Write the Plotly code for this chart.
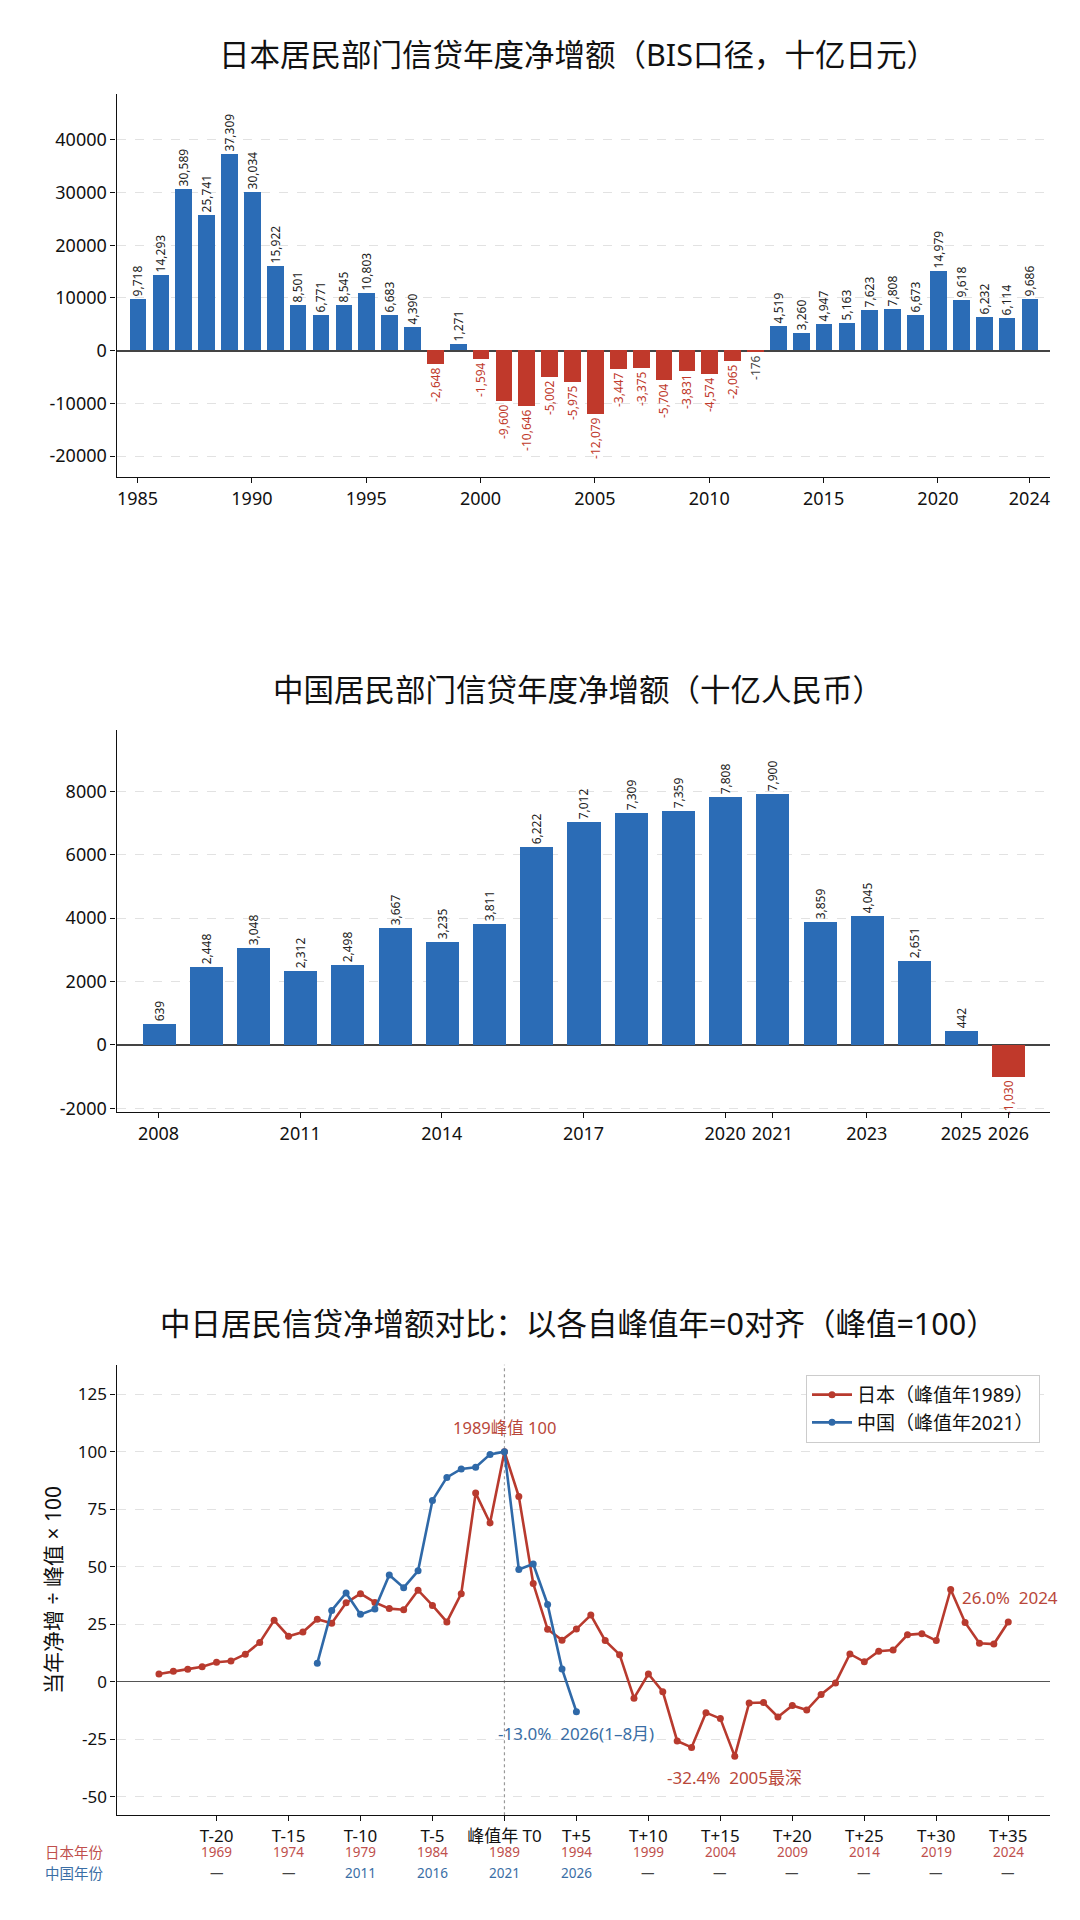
import plotly.graph_objects as go

# ---------------- data ----------------
jp_years = list(range(1985, 2025))
jp_values = [9718, 14293, 30589, 25741, 37309, 30034, 15922, 8501, 6771, 8545,
             10803, 6683, 4390, -2648, 1271, -1594, -9600, -10646, -5002, -5975,
             -12079, -3447, -3375, -5704, -3831, -4574, -2065, -176, 4519, 3260,
             4947, 5163, 7623, 7808, 6673, 14979, 9618, 6232, 6114, 9686]
jp_ticks = [1985, 1990, 1995, 2000, 2005, 2010, 2015, 2020, 2024]

cn_years = list(range(2008, 2027))
cn_values = [639, 2448, 3048, 2312, 2498, 3667, 3235, 3811, 6222, 7012,
             7309, 7359, 7808, 7900, 3859, 4045, 2651, 442, -1030]
cn_ticks = [2008, 2011, 2014, 2017, 2020, 2021, 2023, 2025, 2026]

# aligned index (peak year = 0), peak = 100
jp_t = list(range(-24, 36))
jp_idx = [3.4, 4.6, 5.5, 6.5, 8.5, 9.0, 12.0, 17.1, 26.7, 19.8,
          21.6, 27.2, 25.4, 34.3, 38.3, 34.5, 31.8, 31.3, 39.8, 33.2,
          26.0, 38.3, 82.0, 69.0, 100.0, 80.5, 42.7, 22.8, 18.1, 22.9,
          29.0, 17.9, 11.8, -7.1, 3.4, -4.3, -25.7, -28.5, -13.4, -16.0,
          -32.4, -9.2, -9.0, -15.3, -10.3, -12.3, -5.5, -0.5, 12.1, 8.7,
          13.3, 13.8, 20.4, 20.9, 17.9, 40.1, 25.8, 16.7, 16.4, 26.0]
cn_t = list(range(-13, 6))
cn_idx = [8.1, 31.0, 38.6, 29.3, 31.6, 46.4, 40.9, 48.2, 78.8, 88.8,
          92.5, 93.2, 98.8, 100.0, 48.8, 51.2, 33.6, 5.6, -13.0]

t_ticks = [-20, -15, -10, -5, 0, 5, 10, 15, 20, 25, 30, 35]
t_labels = ["T-20", "T-15", "T-10", "T-5", "峰值年 T0", "T+5", "T+10", "T+15",
            "T+20", "T+25", "T+30", "T+35"]
jp_year_row = ["1969", "1974", "1979", "1984", "1989", "1994", "1999", "2004",
               "2009", "2014", "2019", "2024"]
cn_year_row = ["—", "—", "2011", "2016", "2021", "2026", "—", "—", "—", "—", "—", "—"]

titles = ["日本居民部门信贷年度净增额（BIS口径，十亿日元）",
          "中国居民部门信贷年度净增额（十亿人民币）",
          "中日居民信贷净增额对比：以各自峰值年=0对齐（峰值=100）"]

# ---------------- style ----------------
FONT = "Noto Sans, Noto Sans CJK SC, sans-serif"
BLUE = "#2b6cb6"
RED = "#c0392b"
JP_LINE = "#b83a2e"
CN_LINE = "#2f69a8"
GRID = "#e2e2e2"

W, H = 1080, 1920
def py(px):
    return 1 - px / H

xdom = [108.5 / W, 1042 / W]

def bar_colors(vals):
    return [BLUE if v >= 0 else RED for v in vals]

def label_colors(vals):
    return ["#222" if v >= 0 else (RED if v < -500 else "#444") for v in vals]

fig = go.Figure()

fig.add_trace(go.Bar(
    x=jp_years, y=jp_values, width=0.73,
    marker=dict(color=bar_colors(jp_values), line=dict(width=0)),
    text=[f"{v:,}" for v in jp_values], textposition="outside", textangle=-90,
    textfont=dict(size=12, color=label_colors(jp_values), family=FONT),
    constraintext="none", cliponaxis=False, showlegend=False,
    xaxis="x", yaxis="y"))

fig.add_trace(go.Bar(
    x=cn_years, y=cn_values, width=0.7,
    marker=dict(color=bar_colors(cn_values), line=dict(width=0)),
    text=[f"{v:,}" for v in cn_values], textposition="outside", textangle=-90,
    textfont=dict(size=12, color=label_colors(cn_values), family=FONT),
    constraintext="none", cliponaxis=False, showlegend=False,
    xaxis="x2", yaxis="y2"))

fig.add_trace(go.Scatter(
    x=jp_t, y=jp_idx, mode="lines+markers", name="日本（峰值年1989）",
    line=dict(color=JP_LINE, width=2.6), marker=dict(size=7, color=JP_LINE),
    xaxis="x3", yaxis="y3", cliponaxis=False))
fig.add_trace(go.Scatter(
    x=cn_t, y=cn_idx, mode="lines+markers", name="中国（峰值年2021）",
    line=dict(color=CN_LINE, width=2.6), marker=dict(size=7, color=CN_LINE),
    xaxis="x3", yaxis="y3", cliponaxis=False))

axis_common = dict(showline=True, linecolor="#111", linewidth=1.2, ticks="outside",
                   ticklen=5, tickcolor="#111", tickwidth=1.1, mirror=False)

def fmt(v):
    return str(v).replace("\u2212", "-")

y1_ticks = [-20000, -10000, 0, 10000, 20000, 30000, 40000]
y2_ticks = [-2000, 0, 2000, 4000, 6000, 8000]
y3_ticks = [-50, -25, 0, 25, 50, 75, 100, 125]

fig.update_layout(
    width=W, height=H, margin=dict(l=0, r=0, t=0, b=0),
    paper_bgcolor="white", plot_bgcolor="white",
    font=dict(family=FONT, color="#111"),
    bargap=0,
    xaxis=dict(domain=xdom, anchor="y", range=[1984.08, 2024.9],
               tickvals=jp_ticks, ticktext=[str(t) for t in jp_ticks],
               tickfont=dict(size=18), showgrid=False, zeroline=False, **axis_common),
    yaxis=dict(domain=[py(471), py(86.7)], anchor="x", range=[-24000, 48600],
               tickvals=y1_ticks, ticktext=[fmt(t) for t in y1_ticks],
               tickfont=dict(size=18), showgrid=True, gridcolor=GRID, griddash="dash",
               gridwidth=1, zeroline=True, zerolinecolor="#444", zerolinewidth=1.8,
               **axis_common),
    xaxis2=dict(domain=xdom, anchor="y2", range=[2007.11, 2026.88],
                tickvals=cn_ticks, ticktext=[str(t) for t in cn_ticks],
                tickfont=dict(size=18), showgrid=False, zeroline=False, **axis_common),
    yaxis2=dict(domain=[py(1108.3), py(725)], anchor="x2", range=[-2126, 9928],
                tickvals=y2_ticks, ticktext=[fmt(t) for t in y2_ticks],
                tickfont=dict(size=18), showgrid=True, gridcolor=GRID, griddash="dash",
                gridwidth=1, zeroline=True, zerolinecolor="#444", zerolinewidth=1.8,
                **axis_common),
    xaxis3=dict(domain=xdom, anchor="y3", range=[-26.95, 37.9],
                tickvals=t_ticks, ticktext=t_labels,
                tickfont=dict(size=17), showgrid=False, zeroline=False, **axis_common),
    yaxis3=dict(domain=[py(1813.9), py(1361.6)], anchor="x3", range=[-58, 137.8],
                tickvals=y3_ticks, ticktext=[fmt(t) for t in y3_ticks],
                tickfont=dict(size=17), showgrid=True, gridcolor=GRID, griddash="dash",
                gridwidth=1, zeroline=True, zerolinecolor="#555", zerolinewidth=1.2,
                title=dict(text="当年净增 ÷ 峰值 × 100", font=dict(size=21), standoff=10),
                **axis_common),
    legend=dict(x=1032 / W, xanchor="right", y=py(1371.8), yanchor="top",
                bgcolor="white", bordercolor="#cccccc", borderwidth=1,
                font=dict(size=19), tracegroupgap=2, itemwidth=40),
)

# vertical dotted line at peak year
fig.add_shape(type="line", xref="x3", yref="y3 domain", x0=0, x1=0, y0=0, y1=1,
              line=dict(color="#999", width=1.2, dash="dot"), layer="below")

ann = []
for txt, ypx in zip(titles, [46, 683, 1320]):
    ann.append(dict(text=txt, xref="paper", yref="paper", x=570 / W, y=py(ypx),
                    xanchor="center", yanchor="middle", showarrow=False,
                    font=dict(size=30.5, color="#111")))

ann += [
    dict(text="1989峰值 100", xref="x3", yref="y3", x=0, y=110.4, showarrow=False,
         font=dict(size=16.5, color="#b9473a"), xanchor="center", yanchor="middle"),
    dict(text="-13.0%\u00a0 2026(1–8月)", xref="x3", yref="y3", x=5, y=-22.4,
         showarrow=False, font=dict(size=17, color="#3a6ea5"),
         xanchor="center", yanchor="middle"),
    dict(text="-32.4%\u00a0 2005最深", xref="x3", yref="y3", x=16, y=-41.5,
         showarrow=False, font=dict(size=17, color="#b9473a"),
         xanchor="center", yanchor="middle"),
    dict(text="26.0%\u00a0 2024", xref="x3", yref="y3", x=35.1, y=36.6,
         showarrow=False, font=dict(size=17, color="#b9473a"),
         xanchor="center", yanchor="middle"),
]

ROW_JP, ROW_CN = 1851, 1872
for t, jy, cy in zip(t_ticks, jp_year_row, cn_year_row):
    ann.append(dict(text=jy, xref="x3", yref="paper", x=t, y=py(ROW_JP),
                    showarrow=False, font=dict(size=13.5, color="#c0504d"),
                    xanchor="center", yanchor="middle"))
    ann.append(dict(text=cy, xref="x3", yref="paper", x=t, y=py(ROW_CN),
                    showarrow=False,
                    font=dict(size=13.5, color=("#444" if cy == "—" else "#3a6ea5")),
                    xanchor="center", yanchor="middle"))

ann.append(dict(text="日本年份", xref="paper", yref="paper", x=66 / W, y=py(ROW_JP),
                showarrow=False, font=dict(size=14.5, color="#c0504d"),
                xanchor="center", yanchor="middle"))
ann.append(dict(text="中国年份", xref="paper", yref="paper", x=66 / W, y=py(ROW_CN),
                showarrow=False, font=dict(size=14.5, color="#3a6ea5"),
                xanchor="center", yanchor="middle"))

fig.update_layout(annotations=ann)

fig.write_html("out.html")
